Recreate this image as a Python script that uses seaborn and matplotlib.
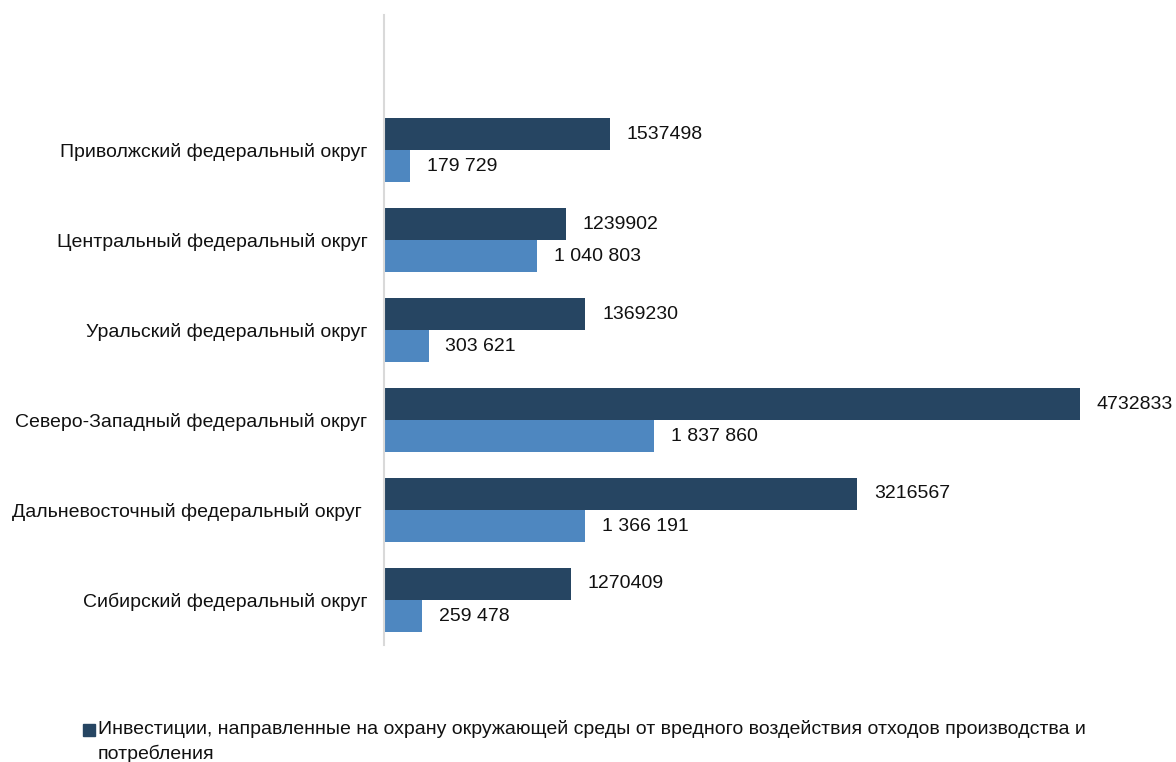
import pandas as pd
import matplotlib
matplotlib.use("Agg")
import matplotlib.pyplot as plt
import seaborn as sns

# districts, top to bottom as in the chart
districts = ['Приволжский федеральный округ',
             'Центральный федеральный округ',
             'Уральский федеральный округ',
             'Северо-Западный федеральный округ',
             'Дальневосточный федеральный округ ',
             'Сибирский федеральный округ']

investments = [1537498, 1239902, 1369230, 4732833, 3216567, 1270409]
second_values = [179729, 1040803, 303621, 1837860, 1366191, 259478]

series_names = ['Инвестиции, направленные на охрану окружающей среды от '
                'вредного воздействия отходов производства и потребления',
                'Текущие затраты на охрану окружающей среды']
colors = ['#264562', '#4e87c0']


def build_frame():
    rows = []
    for d, a, b in zip(districts, investments, second_values):
        rows.append({'district': d, 'value': a, 'series': series_names[0]})
        rows.append({'district': d, 'value': b, 'series': series_names[1]})
    return pd.DataFrame(rows)


def main():
    sns.set_theme(style='white')
    plt.rcParams['font.family'] = ['Liberation Sans', 'DejaVu Sans']

    df = build_frame()
    fig = plt.figure(figsize=(11.76, 7.62), dpi=100)
    ax = fig.add_axes([0.3265, 0.1535, 0.66, 0.8265])

    sns.barplot(data=df, x='value', y='district', hue='series',
                palette=colors, width=0.715, orient='h', ax=ax,
                legend=False, saturation=1, linewidth=0)

    # value labels: first series without separators, second with spaces
    fmt = [lambda v: f'{int(v)}',
           lambda v: f'{int(v):,}'.replace(',', ' ')]
    for cont, f in zip(ax.containers, fmt):
        ax.bar_label(cont, labels=[f(b.get_width()) for b in cont],
                     padding=12, fontsize=14, color='#111111')

    ax.set_xlim(0, 5.277e6)
    ax.set_ylim(5.5, -1.5)
    ax.set_xlabel('')
    ax.set_ylabel('')
    ax.set_xticks([])
    ax.tick_params(axis='y', length=0, pad=12, labelsize=14)
    for t in ax.get_yticklabels():
        t.set_color('#111111')
    for s in ['top', 'right', 'bottom']:
        ax.spines[s].set_visible(False)
    ax.spines['left'].set_color('#d9d9d9')
    ax.spines['left'].set_linewidth(1.5)

    # legend drawn by hand: only the first entry fits on the page
    W, H = 1176, 762
    fig.patches.append(plt.Rectangle((83 / W, 1 - 736 / H), 12 / W, 12 / H,
                                     color=colors[0],
                                     transform=fig.transFigure))
    fig.text(97.5 / W, 1 - 720.5 / H,
             'Инвестиции, направленные на охрану окружающей среды от '
             'вредного воздействия отходов производства и\nпотребления',
             fontsize=14, color='#111111', va='top', ha='left',
             linespacing=1.45)

    fig.savefig('out.png', dpi=100)


if __name__ == '__main__':
    main()
